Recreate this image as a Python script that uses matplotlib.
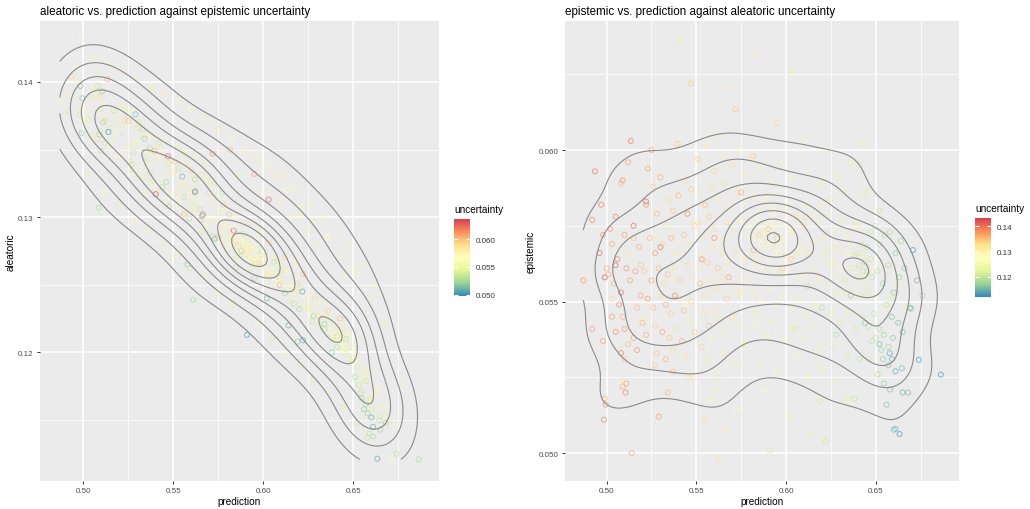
import numpy as np
import matplotlib
matplotlib.use("Agg")
import matplotlib.pyplot as plt
from matplotlib.colors import LinearSegmentedColormap, Normalize
from matplotlib.cm import ScalarMappable
from matplotlib.ticker import FixedLocator

plt.rcParams['font.family'] = ['Liberation Sans', 'DejaVu Sans']

# one record per sample: prediction, aleatoric, epistemic
prediction = [
    # p < 0.50
    0.487, 0.492, 0.4935, 0.492, 0.498, 0.499, 0.4995, 0.4985, 0.496, 0.499, 0.500, 0.498, 0.497,
    # 0.50 - 0.52
    0.5135, 0.512, 0.509, 0.508, 0.505, 0.502, 0.503, 0.510, 0.515, 0.518, 0.506, 0.511,
    0.501, 0.504, 0.508, 0.513, 0.516, 0.519, 0.507, 0.509, 0.510, 0.503, 0.505, 0.512,
    0.515, 0.519, 0.508, 0.510, 0.5085, 0.509, 0.511, 0.5105, 0.514, 0.517, 0.520, 0.517,
    # 0.52 - 0.55
    0.523, 0.526, 0.530, 0.535, 0.522, 0.528, 0.533, 0.537, 0.540, 0.544, 0.547,
    0.524, 0.527, 0.531, 0.536, 0.539, 0.543, 0.546, 0.549,
    0.521, 0.525, 0.529, 0.532, 0.534, 0.538, 0.541, 0.545, 0.548,
    0.523, 0.526, 0.530, 0.533, 0.536, 0.540, 0.543, 0.547,
    0.522, 0.527, 0.531, 0.535, 0.539, 0.542, 0.546, 0.549,
    0.528, 0.533, 0.537, 0.544,
    0.534, 0.527, 0.529, 0.546, 0.548, 0.537,
    # upper outliers
    0.5403, 0.547, 0.5665, 0.5836, 0.603, 0.5719, 0.5396, 0.525, 0.595, 0.609, 0.5622, 0.6222, 0.6427, 0.5815,
    # 0.55 - 0.58
    0.551, 0.556, 0.560, 0.565, 0.570, 0.575, 0.578,
    0.552, 0.555, 0.558, 0.562, 0.566, 0.569, 0.573, 0.577,
    0.551, 0.554, 0.557, 0.560, 0.563, 0.567, 0.571, 0.574, 0.579,
    0.553, 0.556, 0.559, 0.562, 0.565, 0.568, 0.572, 0.576,
    0.552, 0.555, 0.558, 0.561, 0.564, 0.567, 0.570, 0.574, 0.578,
    0.554, 0.557, 0.560, 0.563, 0.566, 0.570, 0.575,
    0.553, 0.556, 0.559, 0.562, 0.565, 0.572, 0.577,
    0.561, 0.558, 0.573, 0.562, 0.566, 0.555,
    # 0.58 - 0.62
    0.581, 0.586, 0.592, 0.598, 0.603, 0.608, 0.612, 0.618,
    0.582, 0.585, 0.588, 0.591, 0.595, 0.599, 0.602, 0.606, 0.611, 0.615, 0.619,
    0.580, 0.583, 0.586, 0.589, 0.591, 0.594, 0.597, 0.600, 0.604, 0.608, 0.613, 0.617,
    0.581, 0.584, 0.587, 0.590, 0.593, 0.596, 0.600, 0.605, 0.609, 0.614, 0.618,
    0.582, 0.586, 0.590, 0.594, 0.598, 0.603, 0.607, 0.611, 0.616,
    0.584, 0.589, 0.593, 0.599, 0.604, 0.610, 0.615, 0.619,
    0.585, 0.595, 0.606, 0.612, 0.620, 0.591, 0.588, 0.602, 0.617, 0.614,
    # around the two modes
    0.588, 0.592, 0.596, 0.590, 0.594, 0.586, 0.598, 0.601, 0.584, 0.593,
    0.640, 0.643, 0.645, 0.638, 0.642, 0.644,
    # 0.62 - 0.65
    0.621, 0.625, 0.629, 0.632, 0.636, 0.641, 0.644,
    0.623, 0.627, 0.631, 0.635, 0.639, 0.6495, 0.652, 0.647,
    0.622, 0.626, 0.630, 0.634, 0.638, 0.641, 0.643, 0.645, 0.647,
    0.624, 0.628, 0.633, 0.637, 0.640, 0.642, 0.644, 0.646, 0.648,
    0.625, 0.630, 0.635, 0.639, 0.643, 0.646, 0.649,
    0.627, 0.634, 0.641, 0.646, 0.648,
    0.6217, 0.622, 0.619, 0.634, 0.638, 0.628,
    # 0.65 - 0.69
    0.652, 0.655, 0.658, 0.661, 0.664, 0.666, 0.669, 0.673,
    0.651, 0.654, 0.657, 0.660, 0.663, 0.6697, 0.656, 0.659,
    0.652, 0.6545, 0.6596, 0.6625, 0.657, 0.665, 0.650, 0.653,
    0.654, 0.657, 0.6645, 0.658, 0.6545, 0.665, 0.668, 0.656, 0.674, 0.6863, 0.6633, 0.660, 0.661, 0.651,
    0.6707, 0.6578, 0.661, 0.676,
    # upper side of the aleatoric band
    0.505, 0.515, 0.522, 0.530, 0.538, 0.545, 0.553, 0.560, 0.568, 0.575, 0.582,
    0.590, 0.598, 0.606, 0.613, 0.621, 0.628, 0.636, 0.644, 0.652, 0.660, 0.667,
    0.585, 0.600, 0.615, 0.630, 0.645, 0.658, 0.610, 0.625,
    0.595, 0.603, 0.611, 0.618, 0.626, 0.633, 0.641, 0.648, 0.655, 0.662, 0.620, 0.635, 0.650,
    # lower side of the aleatoric band
    0.503, 0.512, 0.520, 0.528, 0.536, 0.544, 0.551, 0.559, 0.567, 0.575,
    0.583, 0.597, 0.605, 0.612, 0.620, 0.628, 0.636, 0.644, 0.652, 0.659,
    # dense core, first mode
    0.578, 0.583, 0.588, 0.593, 0.598, 0.603, 0.608, 0.581, 0.586, 0.591, 0.596, 0.601, 0.606, 0.590, 0.595,
]

aleatoric = [
    0.1385, 0.1378, 0.1404, 0.1391, 0.1376, 0.1362, 0.1388, 0.1397, 0.1410, 0.1432, 0.1372, 0.1382, 0.1400,
    0.1402, 0.1371, 0.1389, 0.1358, 0.1395, 0.1381, 0.1367, 0.1376, 0.1352, 0.1364, 0.1398, 0.1384,
    0.1373, 0.1359, 0.1407, 0.1369, 0.1378, 0.1346, 0.1391, 0.1363, 0.1380, 0.1372, 0.1388, 0.1355,
    0.1366, 0.1374, 0.1397, 0.1349, 0.1307, 0.1361, 0.1370, 0.1393, 0.1363, 0.1357, 0.1368, 0.1379,
    0.1372, 0.1341, 0.1366, 0.1329, 0.1383, 0.1355, 0.1318, 0.1349, 0.1361, 0.1322, 0.1340,
    0.1350, 0.1377, 0.1336, 0.1359, 0.1325, 0.1347, 0.1313, 0.1334,
    0.1345, 0.1368, 0.1357, 0.1331, 0.1349, 0.1321, 0.1343, 0.1330, 0.1316,
    0.1380, 0.1353, 0.1328, 0.1361, 0.1340, 0.1318, 0.1352, 0.1337,
    0.1362, 0.1335, 0.1370, 0.1344, 0.1327, 0.1355, 0.1310, 0.1342,
    0.1348, 0.1365, 0.1333, 0.1322,
    0.1358, 0.1339, 0.1376, 0.1326, 0.1308, 0.1351,
    0.1317, 0.1345, 0.1302, 0.1290, 0.1313, 0.1347, 0.1349, 0.1371, 0.1332, 0.1250, 0.1318, 0.1258, 0.1225, 0.1350,
    0.1341, 0.1302, 0.1335, 0.1298, 0.1318, 0.1285, 0.1309,
    0.1318, 0.1349, 0.1322, 0.1307, 0.1331, 0.1296, 0.1325, 0.1290,
    0.1333, 0.1314, 0.1340, 0.1321, 0.1301, 0.1328, 0.1311, 0.1297, 0.1282,
    0.1308, 0.1337, 0.1316, 0.1344, 0.1312, 0.1293, 0.1320, 0.1304,
    0.1352, 0.1326, 0.1305, 0.1330, 0.1317, 0.1339, 0.1300, 0.1314, 0.1295,
    0.1323, 0.1346, 0.1311, 0.1324, 0.1289, 0.1327, 0.1303,
    0.1336, 0.1315, 0.1299, 0.1328, 0.1306, 0.1286, 0.1318,
    0.1239, 0.1265, 0.1284, 0.1319, 0.1301, 0.1330,
    0.1302, 0.1279, 0.1295, 0.1266, 0.1281, 0.1256, 0.1270, 0.1245,
    0.1287, 0.1299, 0.1274, 0.1283, 0.1268, 0.1289, 0.1258, 0.1272, 0.1262, 0.1250, 0.1266,
    0.1294, 0.1281, 0.1276, 0.1290, 0.1271, 0.1279, 0.1285, 0.1263, 0.1270, 0.1254, 0.1259, 0.1241,
    0.1278, 0.1293, 0.1284, 0.1275, 0.1269, 0.1278, 0.1273, 0.1261, 0.1266, 0.1248, 0.1255,
    0.1286, 0.1271, 0.1280, 0.1265, 0.1276, 0.1257, 0.1264, 0.1252, 0.1246,
    0.1269, 0.1288, 0.1262, 0.1272, 0.1249, 0.1260, 0.1238, 0.1251,
    0.1263, 0.1255, 0.1267, 0.1244, 0.1232, 0.1213, 0.1275, 0.1240, 0.1236, 0.1220,
    0.1278, 0.1274, 0.1270, 0.1281, 0.1276, 0.1284, 0.1268, 0.1272, 0.1286, 0.1277,
    0.1213, 0.1207, 0.1204, 0.1216, 0.1210, 0.1202,
    0.1248, 0.1233, 0.1240, 0.1226, 0.1231, 0.1212, 0.1218,
    0.1239, 0.1244, 0.1229, 0.1236, 0.1220, 0.1203, 0.1199, 0.1214,
    0.1243, 0.1230, 0.1237, 0.1222, 0.1216, 0.1208, 0.1221, 0.1205, 0.1211,
    0.1235, 0.1226, 0.1219, 0.1228, 0.1210, 0.1215, 0.1203, 0.1213, 0.1196,
    0.1232, 0.1220, 0.1225, 0.1209, 0.1214, 0.1199, 0.1206,
    0.1223, 0.1217, 0.1204, 0.1210, 0.1192,
    0.1245, 0.1209, 0.1208, 0.1221, 0.1200, 0.1227,
    0.1192, 0.1183, 0.1186, 0.1168, 0.1174, 0.1160, 0.1155, 0.1147,
    0.1195, 0.1178, 0.1181, 0.1164, 0.1170, 0.1149, 0.1187, 0.1158,
    0.1189, 0.1172, 0.1165, 0.1158, 0.1179, 0.1153, 0.1196, 0.1176,
    0.1170, 0.1162, 0.1150, 0.1155, 0.1166, 0.1143, 0.1148, 0.1158, 0.1125, 0.1121, 0.11215, 0.1152, 0.1145, 0.1182,
    0.1121, 0.1137, 0.1138, 0.1176,
    0.1418, 0.1412, 0.1408, 0.1402, 0.1396, 0.1392, 0.1386, 0.1380, 0.1372, 0.1365, 0.1358,
    0.1349, 0.1340, 0.1331, 0.1320, 0.1308, 0.1298, 0.1285, 0.1272, 0.1258, 0.1240, 0.1222,
    0.1330, 0.1318, 0.1300, 0.1278, 0.1255, 0.1230, 0.1312, 0.1290,
    0.1345, 0.1338, 0.1330, 0.1322, 0.1310, 0.1300, 0.1290, 0.1280, 0.1265, 0.1250, 0.1300, 0.1285, 0.1262,
    0.1332, 0.1318, 0.1310, 0.1298, 0.1290, 0.1281, 0.1272, 0.1262, 0.1255, 0.1244,
    0.1235, 0.1222, 0.1211, 0.1200, 0.1192, 0.1180, 0.1170, 0.1160, 0.1148, 0.1140,
    0.1295, 0.1283, 0.1282, 0.1270, 0.1270, 0.1258, 0.1257, 0.1286, 0.1276, 0.1276, 0.1265, 0.1266, 0.1252, 0.1279, 0.1271,
]

epistemic = [
    0.0557, 0.0541, 0.0593, 0.0577, 0.0537, 0.0518, 0.0516, 0.0511, 0.0566, 0.0558, 0.0561, 0.0572, 0.0582,
    0.0603, 0.0596, 0.0590, 0.0589, 0.0578, 0.0574, 0.0569, 0.0572, 0.0571, 0.0568, 0.0564, 0.0561,
    0.0559, 0.0556, 0.0553, 0.0557, 0.0560, 0.0562, 0.0549, 0.0545, 0.0541, 0.0545, 0.0540, 0.0536,
    0.0538, 0.0552, 0.0533, 0.0531, 0.0524, 0.0522, 0.0523, 0.0520, 0.0500, 0.0548, 0.0543, 0.0534,
    0.0594, 0.0588, 0.0591, 0.0583, 0.0582, 0.0579, 0.0575, 0.0580, 0.0585, 0.0590, 0.0587,
    0.0571, 0.0566, 0.0569, 0.0571, 0.0566, 0.0572, 0.0569, 0.0575,
    0.0560, 0.0557, 0.0561, 0.0556, 0.0559, 0.0561, 0.0557, 0.0562, 0.0558,
    0.0551, 0.0548, 0.0552, 0.0549, 0.0546, 0.0551, 0.0547, 0.0550,
    0.0539, 0.0542, 0.0540, 0.0538, 0.0541, 0.0537, 0.0544, 0.0540,
    0.0533, 0.0531, 0.0534, 0.0532,
    0.0520, 0.0529, 0.0512, 0.0525, 0.0525, 0.0527,
    0.0636, 0.0622, 0.0621, 0.0632, 0.0626, 0.06135, 0.0602, 0.0600, 0.0609, 0.0604, 0.0605, 0.0600, 0.0602, 0.0598,
    0.0597, 0.0601, 0.0593, 0.0598, 0.0595, 0.0600, 0.0592,
    0.0586, 0.0582, 0.0588, 0.0584, 0.0589, 0.0581, 0.0586, 0.0583,
    0.0576, 0.0572, 0.0578, 0.0574, 0.0570, 0.0576, 0.0573, 0.0577, 0.0575,
    0.0566, 0.0563, 0.0568, 0.0561, 0.0566, 0.0563, 0.0567, 0.0564,
    0.0556, 0.0552, 0.0557, 0.0554, 0.0558, 0.0551, 0.0555, 0.0553, 0.0557,
    0.0546, 0.0542, 0.0547, 0.0544, 0.0540, 0.0545, 0.0542,
    0.0535, 0.0531, 0.0528, 0.0525, 0.0533, 0.0530, 0.0536,
    0.0521, 0.0518, 0.0514, 0.0498, 0.0508, 0.0511,
    0.0598, 0.0594, 0.0590, 0.0596, 0.0591, 0.0599, 0.0592, 0.0588,
    0.0585, 0.0580, 0.0584, 0.0581, 0.0586, 0.0580, 0.0583, 0.0578, 0.0582, 0.0579, 0.0576,
    0.0571, 0.0574, 0.0569, 0.0573, 0.0570, 0.0575, 0.0571, 0.0568, 0.0572, 0.0569, 0.0566, 0.0570,
    0.0562, 0.0565, 0.0560, 0.0564, 0.0561, 0.0566, 0.0560, 0.0563, 0.0558, 0.0561, 0.0557,
    0.0553, 0.0550, 0.0554, 0.0549, 0.0552, 0.0548, 0.0551, 0.0546, 0.0549,
    0.0542, 0.0539, 0.0543, 0.0537, 0.0541, 0.0538, 0.0542, 0.0535,
    0.0530, 0.0527, 0.0532, 0.0525, 0.0528, 0.0501, 0.0521, 0.0512, 0.0532, 0.0506,
    0.0575, 0.0577, 0.0573, 0.0568, 0.0566, 0.0571, 0.0576, 0.0574, 0.0578, 0.0579,
    0.0566, 0.0560, 0.0568, 0.0561, 0.0569, 0.0563,
    0.0589, 0.0584, 0.0591, 0.0586, 0.0596, 0.0595, 0.0586,
    0.0578, 0.0574, 0.0577, 0.0572, 0.0576, 0.0575, 0.0580, 0.0573,
    0.0566, 0.0563, 0.0567, 0.0561, 0.0565, 0.0562, 0.0566, 0.0560, 0.0564,
    0.0556, 0.0553, 0.0557, 0.0554, 0.0558, 0.0552, 0.0556, 0.0553, 0.0558,
    0.0546, 0.0543, 0.0547, 0.0541, 0.0545, 0.0542, 0.0546,
    0.0535, 0.0532, 0.0531, 0.0531, 0.0537,
    0.0505, 0.0504, 0.0517, 0.0518, 0.0518, 0.0524,
    0.0569, 0.0572, 0.0573, 0.0566, 0.0570, 0.0561, 0.0548, 0.0557,
    0.0560, 0.0556, 0.0562, 0.0553, 0.0558, 0.05477, 0.0549, 0.0545,
    0.0541, 0.0539, 0.0538, 0.0543, 0.0535, 0.0540, 0.0538, 0.0534,
    0.0531, 0.0529, 0.0528, 0.0521, 0.0523, 0.0520, 0.0520, 0.0516, 0.05308, 0.05259, 0.05063, 0.05077, 0.0508, 0.0526,
    0.0567, 0.0533, 0.0527, 0.0552,
    0.0562, 0.0575, 0.0583, 0.0568, 0.0552, 0.0579, 0.0564, 0.0571, 0.0558, 0.0586, 0.0567,
    0.0574, 0.0561, 0.0578, 0.0566, 0.0571, 0.0559, 0.0569, 0.0556, 0.0563, 0.0552, 0.0548,
    0.0572, 0.0565, 0.0569, 0.0561, 0.0558, 0.0551, 0.0575, 0.0563,
    0.0571, 0.0564, 0.0578, 0.0559, 0.0568, 0.0553, 0.0574, 0.0561, 0.0548, 0.0556, 0.0582, 0.0566, 0.0552,
    0.0551, 0.0566, 0.0544, 0.0572, 0.0557, 0.0549, 0.0561, 0.0538, 0.0570, 0.0553,
    0.0546, 0.0559, 0.0541, 0.0555, 0.0548, 0.0539, 0.0552, 0.0543, 0.0536, 0.0531,
    0.0565, 0.0577, 0.0569, 0.0580, 0.0563, 0.0574, 0.0567, 0.0571, 0.0562, 0.0576, 0.0570, 0.0579, 0.0566, 0.0573, 0.0568,
]

if not (len(prediction) == len(aleatoric) == len(epistemic)):
    raise ValueError(f"length mismatch: {len(prediction)} {len(aleatoric)} {len(epistemic)}")

prediction = np.array(prediction)
aleatoric = np.array(aleatoric)
epistemic = np.array(epistemic)

# RColorBrewer Spectral (7), low -> high
spectral = LinearSegmentedColormap.from_list(
    'spectral7', ['#3288BD', '#99D594', '#E6F598', '#FFFFBF', '#FEE08B', '#FC8D59', '#D53E4F'])

W, H = 1030, 510


def bandwidth_nrd(v):
    q75, q25 = np.percentile(v, [75, 25])
    return 4 * 1.06 * min(np.std(v, ddof=1), (q75 - q25) / 1.34) * len(v) ** (-0.2)


def kde2d(x, y, n=100, adjust=1.0):
    # same scheme as MASS::kde2d used by ggplot's density_2d
    hx = bandwidth_nrd(x) / 4 * adjust
    hy = bandwidth_nrd(y) / 4 * adjust
    gx = np.linspace(x.min(), x.max(), n)
    gy = np.linspace(y.min(), y.max(), n)
    kx = np.exp(-0.5 * ((gx[:, None] - x[None, :]) / hx) ** 2) / (hx * np.sqrt(2 * np.pi))
    ky = np.exp(-0.5 * ((gy[:, None] - y[None, :]) / hy) ** 2) / (hy * np.sqrt(2 * np.pi))
    z = ky @ kx.T / len(x)
    return gx, gy, z


def r_pretty(lo, hi, n=10):
    # port of R's pretty(), which ggplot uses for contour breaks
    h, h5 = 1.5, 0.5 + 1.5 * 1.5
    cell = (hi - lo) / n
    U = 10 ** np.floor(np.log10(cell))
    unit = U
    if 2 * U - cell < h * (cell - unit):
        unit = 2 * U
        if 5 * U - cell < h5 * (cell - unit):
            unit = 5 * U
            if 10 * U - cell < h * (cell - unit):
                unit = 10 * U
    ns = np.floor(lo / unit + 1e-7)
    nu = np.ceil(hi / unit - 1e-7)
    return np.arange(ns, nu + 1) * unit


def px_rect(left, top, right, bottom):
    return [left / W, 1 - bottom / H, (right - left) / W, (bottom - top) / H]


def draw_panel(fig, rect, cbar_rect, x, y, c, title, ylabel, xlim, ylim,
               yticks, yminor, yfmt, cticks, cfmt, adjust, nbreaks):
    ax = fig.add_axes(rect)
    ax.set_facecolor('#EBEBEB')
    for s in ax.spines.values():
        s.set_visible(False)

    xticks = [0.50, 0.55, 0.60, 0.65]
    ax.xaxis.set_major_locator(FixedLocator(xticks))
    ax.xaxis.set_minor_locator(FixedLocator([0.475, 0.525, 0.575, 0.625, 0.675]))
    ax.yaxis.set_major_locator(FixedLocator(yticks))
    ax.yaxis.set_minor_locator(FixedLocator(yminor))
    ax.set_xticklabels(['{:.2f}'.format(t) for t in xticks])
    ax.set_yticklabels([yfmt.format(t) for t in yticks])
    ax.grid(which='major', color='white', linewidth=1.1)
    ax.grid(which='minor', color='white', linewidth=0.5)
    ax.set_axisbelow(True)
    ax.tick_params(which='major', length=2.5, width=0.7, color='#333333',
                   labelsize=5.8, labelcolor='#4D4D4D', pad=2)
    ax.tick_params(which='minor', length=0)

    norm = Normalize(vmin=c.min(), vmax=c.max())
    ax.scatter(x, y, s=13, facecolors='none', edgecolors=spectral(norm(c)),
               linewidths=0.7, alpha=0.6, zorder=2)

    gx, gy, z = kde2d(x, y, adjust=adjust)
    levels = r_pretty(0, z.max(), nbreaks)
    levels = levels[(levels > 0) & (levels < z.max())]
    ax.contour(gx, gy, z, levels=levels, colors='#8A8A8A', linewidths=0.8, zorder=3)

    ax.set_xlim(*xlim)
    ax.set_ylim(*ylim)
    ax.set_xlabel('prediction', fontsize=7.2, labelpad=1.5)
    ax.set_ylabel(ylabel, fontsize=7.2, labelpad=2)
    ax.set_title(title, loc='left', fontsize=8.4, pad=5)

    cax = fig.add_axes(cbar_rect)
    cb = fig.colorbar(ScalarMappable(norm=norm, cmap=spectral), cax=cax)
    cb.outline.set_visible(False)
    cb.set_ticks(cticks)
    cb.set_ticklabels([cfmt.format(t) for t in cticks])
    cax.tick_params(direction='in', length=3, width=0.8, color='white', left=True, right=True,
                    labelsize=5.8, labelcolor='#333333', pad=4)
    cax.set_title('uncertainty', loc='left', fontsize=7.2, pad=5)
    return ax


fig = plt.figure(figsize=(W / 100, H / 100), dpi=100)

draw_panel(fig, px_rect(40, 22, 439, 482), px_rect(454, 220, 470, 297),
           prediction, aleatoric, epistemic,
           'aleatoric vs. prediction against epistemic uncertainty', 'aleatoric',
           (0.476, 0.6976), (0.1105, 0.1445),
           [0.12, 0.13, 0.14], [0.115, 0.125, 0.135], '{:.2f}',
           [0.050, 0.055, 0.060], '{:.3f}', 0.9, 12)

draw_panel(fig, px_rect(565, 22, 959, 482), px_rect(975, 219, 991, 298),
           prediction, epistemic, aleatoric,
           'epistemic vs. prediction against aleatoric uncertainty', 'epistemic',
           (0.4768, 0.6964), (0.04908, 0.06426),
           [0.050, 0.055, 0.060], [0.0525, 0.0575, 0.0625], '{:.3f}',
           [0.12, 0.13, 0.14], '{:.2f}', 0.9, 10)

fig.savefig('out.png', dpi=100, facecolor='white')
